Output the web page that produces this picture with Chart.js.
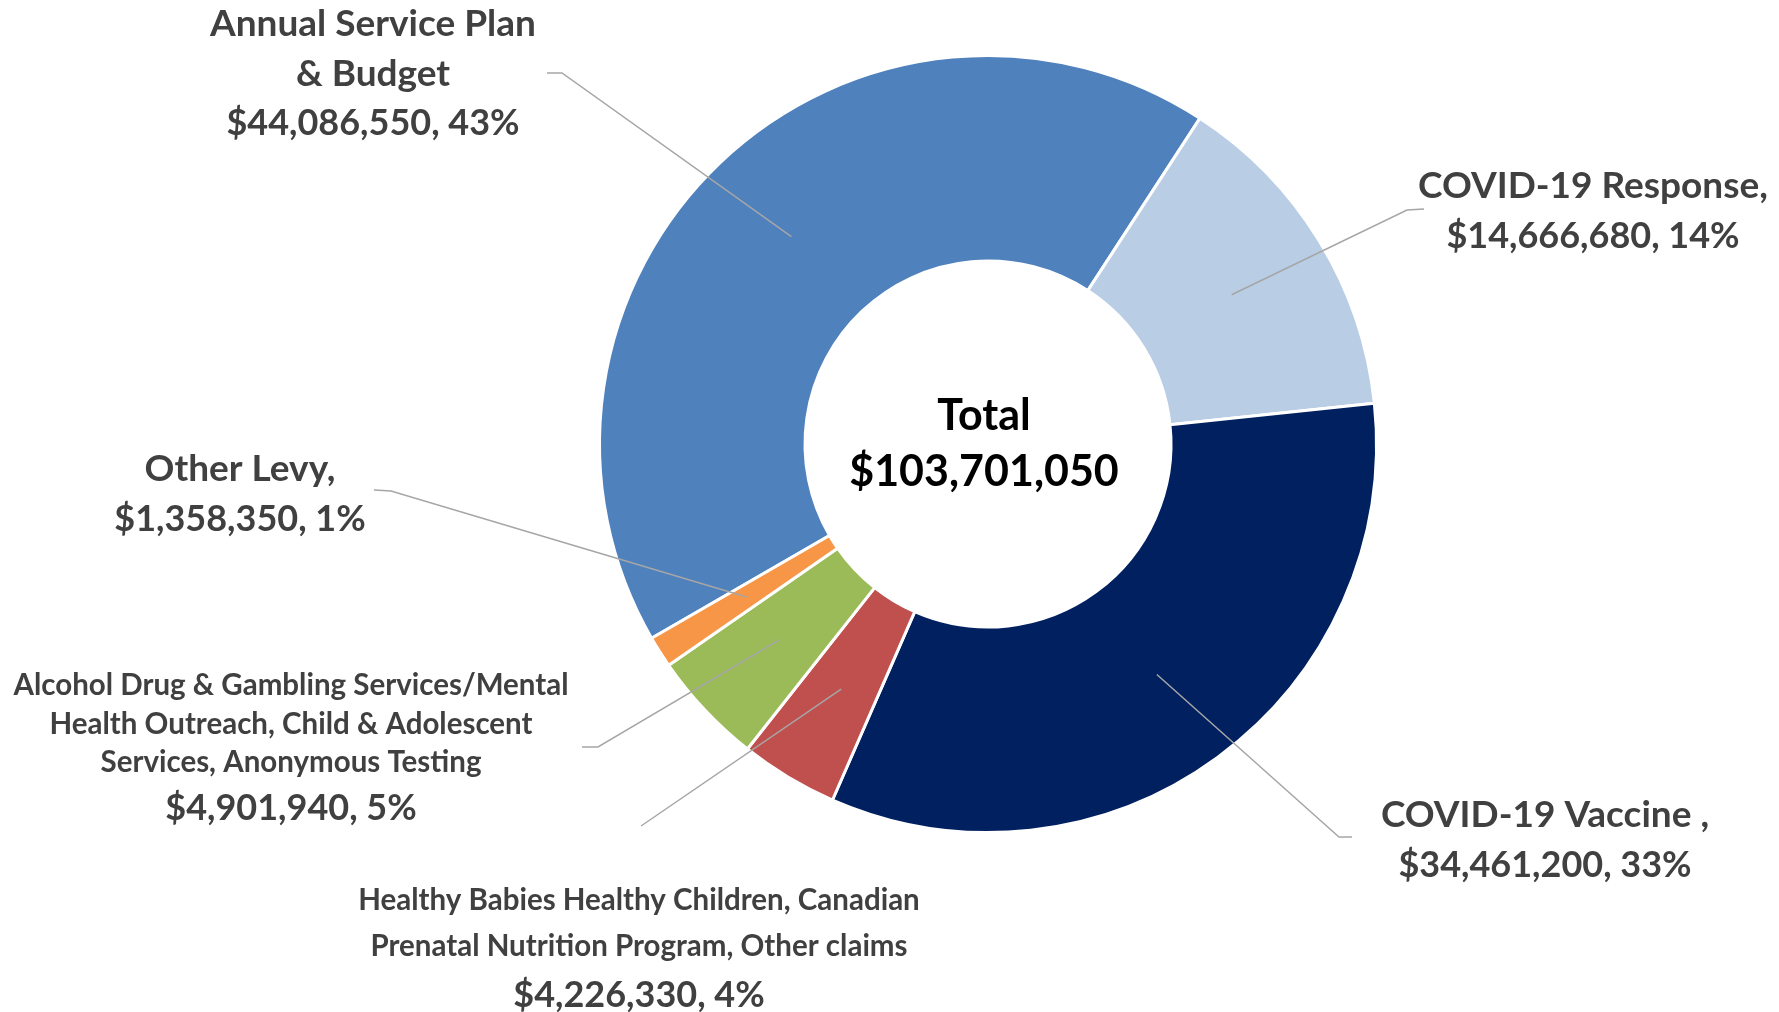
<!DOCTYPE html>
<html>
<head>
<meta charset="utf-8">
<title>Funding breakdown</title>
<script src="https://cdn.jsdelivr.net/npm/chart.js@4/dist/chart.umd.min.js"></script>
<style>
  html, body { margin: 0; padding: 0; background: #ffffff; }
  #wrap { width: 1779px; height: 1012px; position: relative; }
</style>
</head>
<body>
<div id="wrap"><canvas id="fundingChart" width="1779" height="1012"></canvas></div>
<script>
// Chart data
const categories = [
    'Annual Service Plan & Budget',
    'COVID-19 Response',
    'COVID-19 Vaccine',
    'Healthy Babies Healthy Children, Canadian Prenatal Nutrition Program, Other claims',
    'Alcohol Drug & Gambling Services/Mental Health Outreach, Child & Adolescent Services, Anonymous Testing',
    'Other Levy'
];
const amounts = [44086550, 14666680, 34461200, 4226330, 4901940, 1358350];
const sliceColors = ['#4F81BD', '#B9CDE5', '#002060', '#C0504D', '#9BBB59', '#F79646'];

// How each label name is broken into lines (as in the original)
const labelLines = [
    ['Annual Service Plan', '& Budget'],
    ['COVID-19 Response,'],
    ['COVID-19 Vaccine ,'],
    ['Healthy Babies Healthy Children, Canadian', 'Prenatal Nutrition Program, Other claims'],
    ['Alcohol Drug & Gambling Services/Mental', 'Health Outreach, Child & Adolescent', 'Services, Anonymous Testing'],
    ['Other Levy,']
];

// Label placement (text centre, middle of each line, leader elbow/end)
const labelLayout = [
    { x: 373,  ys: [24, 74, 123],        nameSize: 37, elbow: [562, 73],   end: [547, 73] },
    { x: 1593, ys: [186, 236],           nameSize: 37, elbow: [1407, 210], end: [1424, 209] },
    { x: 1545, ys: [815, 865],           nameSize: 37, elbow: [1339, 837], end: [1352, 837] },
    { x: 639,  ys: [900, 946, 995],      nameSize: 29.5, elbow: [641, 826], end: null },
    { x: 291,  ys: [685, 724, 762, 808], nameSize: 29.5, elbow: [598, 747], end: [582, 747] },
    { x: 240,  ys: [469, 519],           nameSize: 37, elbow: [391, 491],  end: [374, 490] }
];

const total = amounts.reduce((a, b) => a + b, 0);
const FONT = 'Lato, "Open Sans", sans-serif';

function money(v) {
    return '$' + v.toLocaleString('en-US');
}

// Plugin: leader lines, outside labels and centre total
const doughnutLabels = {
    id: 'doughnutLabels',
    afterDraw(chart) {
        const ctx = chart.ctx;
        const meta = chart.getDatasetMeta(0);
        ctx.save();

        meta.data.forEach((arc, i) => {
            const lay = labelLayout[i];
            const p = arc.getProps(['x', 'y', 'startAngle', 'endAngle', 'innerRadius', 'outerRadius'], true);
            const mid = (p.startAngle + p.endAngle) / 2;
            const r = (p.innerRadius + p.outerRadius) / 2;
            const sx = p.x + Math.cos(mid) * r;
            const sy = p.y + Math.sin(mid) * r;

            // leader line
            ctx.strokeStyle = '#A6A6A6';
            ctx.lineWidth = 1.5;
            ctx.beginPath();
            ctx.moveTo(sx, sy);
            ctx.lineTo(lay.elbow[0], lay.elbow[1]);
            if (lay.end) ctx.lineTo(lay.end[0], lay.end[1]);
            ctx.stroke();

            // label text
            ctx.fillStyle = '#404040';
            ctx.textAlign = 'center';
            ctx.textBaseline = 'middle';
            const names = labelLines[i];
            names.forEach((line, j) => {
                ctx.font = 'bold ' + lay.nameSize + 'px ' + FONT;
                ctx.fillText(line, lay.x, lay.ys[j]);
            });
            const pct = Math.round(amounts[i] / total * 100);
            ctx.font = 'bold 36px ' + FONT;
            ctx.fillText(money(amounts[i]) + ', ' + pct + '%', lay.x, lay.ys[names.length]);
        });

        // centre total
        const cx = meta.data[0].x;
        const cy = meta.data[0].y;
        ctx.fillStyle = '#000000';
        ctx.textAlign = 'center';
        ctx.textBaseline = 'middle';
        ctx.font = 'bold 43px ' + FONT;
        ctx.fillText('Total', cx - 4, cy - 28);
        ctx.fillText(money(total), cx - 4, cy + 28);

        ctx.restore();
    }
};

const ctx = document.getElementById('fundingChart').getContext('2d');
new Chart(ctx, {
    type: 'doughnut',
    data: {
        labels: categories,
        datasets: [{
            data: amounts,
            backgroundColor: sliceColors,
            borderColor: '#ffffff',
            borderWidth: 3
        }]
    },
    options: {
        responsive: false,
        animation: false,
        rotation: -120,
        cutout: 183,
        layout: {
            padding: { top: 54, bottom: 178, left: 598, right: 401 }
        },
        plugins: {
            legend: { display: false },
            tooltip: { enabled: false }
        }
    },
    plugins: [doughnutLabels]
});
</script>
</body>
</html>
